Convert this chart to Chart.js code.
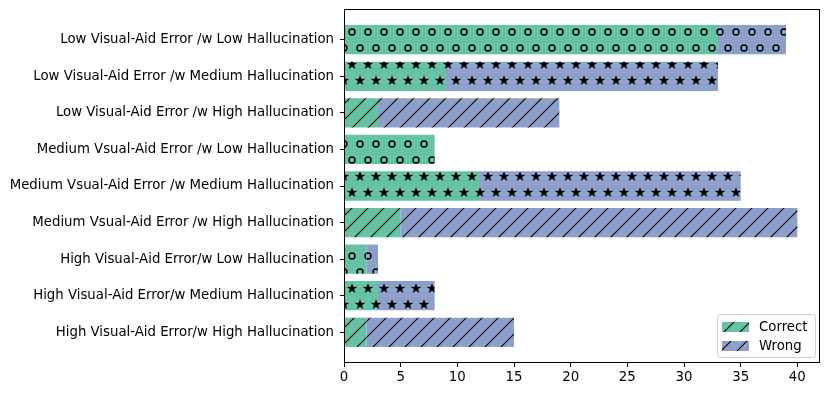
<!DOCTYPE html>
<html>
<head>
<meta charset="utf-8">
<script src="https://cdn.jsdelivr.net/npm/chart.js@4.4.1/dist/chart.umd.min.js"></script>
<style>
  body { margin: 0; background: #fff; }
  canvas { display: block; }
</style>
</head>
<body>
<canvas id="myChart" width="830" height="396"></canvas>
<script>
// ---- data
var categories = [
    "Low Visual-Aid Error /w Low Hallucination",
    "Low Visual-Aid Error /w Medium Hallucination",
    "Low Visual-Aid Error /w High Hallucination",
    "Medium Vsual-Aid Error /w Low Hallucination",
    "Medium Vsual-Aid Error /w Medium Hallucination",
    "Medium Vsual-Aid Error /w High Hallucination",
    "High Visual-Aid Error/w Low Hallucination",
    "High Visual-Aid Error/w Medium Hallucination",
    "High Visual-Aid Error/w High Hallucination"
];
var correct = [33, 9, 3, 8, 12, 5, 2, 3, 2];
var wrong   = [6, 24, 16, 0, 23, 35, 1, 5, 13];
var hatches = ['o', '*', '/', 'o', '*', '/', 'o', '*', '/'];
var xTicks  = [0, 5, 10, 15, 20, 25, 30, 35, 40];

var GREEN = '#66c2a5';
var BLUE  = '#8da0cb';
var FONT  = "'DejaVu Sans', sans-serif";
var FSIZE = 13.3;

// ---- hatch patterns (aligned to the canvas origin)
function drawStar(c, x, y, ro, ri){
    c.beginPath();
    for(var k = 0; k < 10; k++){
        var r = (k % 2 === 0) ? ro : ri;
        var a = -Math.PI / 2 + k * Math.PI / 5;
        var px = x + r * Math.cos(a), py = y + r * Math.sin(a);
        if(k === 0) c.moveTo(px, py); else c.lineTo(px, py);
    }
    c.closePath();
    c.fill();
}
function makePattern(color, kind){
    var tile = document.createElement('canvas');
    var w = 16, h = (kind === '/') ? 16 : 32;
    tile.width = w; tile.height = h;
    var c = tile.getContext('2d');
    c.fillStyle = color;
    c.fillRect(0, 0, w, h);
    c.strokeStyle = '#000';
    c.fillStyle = '#000';
    if(kind === '/'){
        c.lineWidth = 1.1;
        c.beginPath();
        c.moveTo(0, 16); c.lineTo(16, 0);
        c.moveTo(-2, 2); c.lineTo(2, -2);
        c.moveTo(14, 18); c.lineTo(18, 14);
        c.stroke();
    } else {
        var pts = [[0, 0], [16, 0], [0, 32], [16, 32], [8, 16]];
        for(var i = 0; i < pts.length; i++){
            if(kind === 'o'){
                c.lineWidth = 1.4;
                c.beginPath();
                c.arc(pts[i][0], pts[i][1], 3, 0, Math.PI * 2);
                c.stroke();
            } else {
                drawStar(c, pts[i][0], pts[i][1] + 0.6, 5.4, 2.2);
            }
        }
    }
    return document.getElementById('myChart').getContext('2d').createPattern(tile, 'repeat');
}

// ---- frame round the plot area
var framePlugin = {
    id: 'frame',
    afterDatasetsDraw: function(chart){
        var ca = chart.chartArea, c = chart.ctx;
        c.save();
        c.strokeStyle = '#000';
        c.lineWidth = 1;
        c.strokeRect(Math.round(ca.left) + 0.5, Math.round(ca.top) + 0.5,
                     Math.round(ca.right - ca.left) - 1, Math.round(ca.bottom - ca.top) - 1);
        c.restore();
    }
};

// ---- legend in the lower right corner
var legendPlugin = {
    id: 'boxLegend',
    afterDraw: function(chart){
        var ca = chart.chartArea, c = chart.ctx;
        var w = 98, h = 43;
        var x = ca.right - 5 - w, y = ca.bottom - 6 - h;
        c.save();
        c.beginPath();
        c.roundRect(x + 0.5, y + 0.5, w, h, 3);
        c.fillStyle = 'rgba(255,255,255,0.8)';
        c.fill();
        c.strokeStyle = '#d0d0d0';
        c.lineWidth = 1;
        c.stroke();
        var sets = chart.data.datasets;
        for(var i = 0; i < sets.length; i++){
            var py = y + 8 + i * 19;
            c.fillStyle = makePattern(sets[i].legendColor, '/');
            c.fillRect(x + 5, py, 27, 10);
            c.fillStyle = '#000';
            c.font = FSIZE + 'px ' + FONT;
            c.textBaseline = 'middle';
            c.fillText(sets[i].label, x + 42, py + 5.5);
        }
        c.restore();
    }
};

var ds = [
    {label: 'Correct', values: correct, color: GREEN},
    {label: 'Wrong', values: wrong, color: BLUE}
].map(function(d){
    return {
        label: d.label,
        legendColor: d.color,
        data: d.values.map(function(v, i){ return {x: v, y: i}; }),
        backgroundColor: hatches.map(function(k){ return makePattern(d.color, k); }),
        borderWidth: 0,
        barPercentage: 0.8,
        categoryPercentage: 1.0
    };
});

var ctx = document.getElementById('myChart');
var myChart = new Chart(ctx, {
    type: 'bar',
    data: {datasets: ds},
    plugins: [framePlugin, legendPlugin],
    options: {
        indexAxis: 'y',
        responsive: false,
        animation: false,
        devicePixelRatio: 1,
        layout: {padding: {top: 9, right: 10, left: 0, bottom: 0}},
        plugins: {legend: {display: false}, tooltip: {enabled: false}},
        scales: {
            x: {
                type: 'linear',
                stacked: true,
                min: 0,
                max: 42,
                border: {display: false},
                grid: {display: true, drawOnChartArea: false, drawTicks: true, tickLength: 4, color: '#000'},
                ticks: {color: '#000', font: {family: FONT, size: FSIZE}, padding: 3, maxRotation: 0},
                afterBuildTicks: function(scale){
                    scale.ticks = xTicks.map(function(v){ return {value: v}; });
                },
                afterFit: function(scale){ scale.height = 33; }
            },
            y: {
                type: 'linear',
                stacked: true,
                reverse: true,
                offset: false,
                min: -0.84,
                max: 8.84,
                border: {display: false},
                grid: {display: true, offset: false, drawOnChartArea: false, drawTicks: true, tickLength: 4, color: '#000'},
                ticks: {
                    color: '#000', font: {family: FONT, size: FSIZE}, padding: 6, autoSkip: false,
                    callback: function(v){ return categories[v]; }
                },
                afterBuildTicks: function(scale){
                    scale.ticks = categories.map(function(c, i){ return {value: i}; });
                },
                afterFit: function(scale){
                    scale.width = 344;
                    scale.paddingTop = 0;
                    scale.paddingBottom = 0;
                }
            }
        }
    }
});
</script>
</body>
</html>
